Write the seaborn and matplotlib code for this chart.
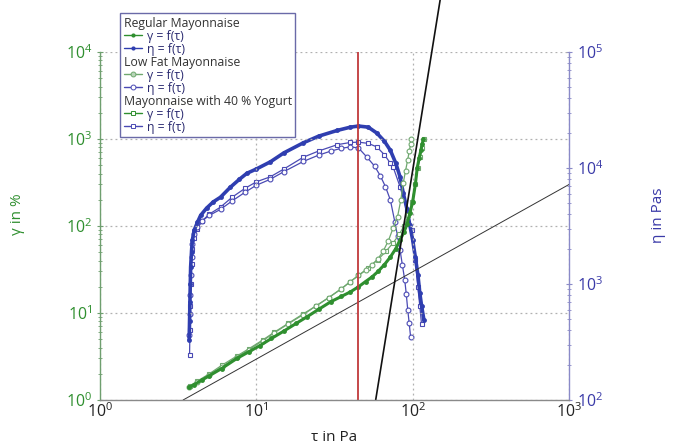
import matplotlib
matplotlib.use("Agg")
import matplotlib.pyplot as plt
from matplotlib.lines import Line2D
import seaborn as sns

sns.set_style("white")
plt.rcParams["font.family"] = ["Open Sans", "DejaVu Sans"]
plt.rcParams["mathtext.default"] = "regular"

# --- shear strain gamma (%) vs shear stress tau (Pa) ---
tau_reg_g = [3.7, 4.0, 4.5, 5.0, 6.0, 7.5, 9.0, 10.5, 12.5, 15, 18, 21, 25, 30, 35, 40, 45,
             50, 55, 60, 66, 72, 78, 83, 88, 92, 96, 100, 104, 107, 110, 113, 115, 117]
gam_reg = [1.4, 1.5, 1.7, 1.9, 2.3, 3.0, 3.6, 4.2, 5.1, 6.2, 7.6, 9.0, 11, 13.5, 15.5, 17.5, 20,
           23, 26, 30, 36, 44, 55, 69, 85, 105, 140, 190, 300, 470, 600, 750, 870, 1000]

tau_low_g = [3.7, 4.2, 5, 6, 7.5, 9, 11, 13, 16, 20, 24, 29, 35, 40, 45, 50, 55, 60, 65, 70,
             75, 80, 84, 87, 90, 93, 95, 97, 98]
gam_low = [1.4, 1.6, 1.95, 2.4, 3.1, 3.8, 4.8, 5.9, 7.5, 9.6, 12, 15, 19, 23, 27, 31, 36, 42,
           52, 68, 95, 127, 200, 310, 430, 580, 720, 870, 1000]

tau_yog_g = [3.75, 4.2, 5, 6, 7.5, 9, 11, 13, 16, 20, 24, 29, 35, 40, 45, 52, 60, 68, 75, 82,
             88, 94, 99, 104, 108, 112, 115, 118]
gam_yog = [1.45, 1.65, 2.0, 2.5, 3.2, 3.9, 4.9, 6.0, 7.6, 9.8, 12, 15, 19, 23, 27, 33, 41, 52,
           64, 80, 100, 135, 190, 300, 470, 620, 780, 1000]

# --- viscosity eta (Pa s) vs shear stress tau (Pa) ---
tau_reg_e = [3.72, 3.74, 3.76, 3.78, 3.8, 3.85, 3.9, 4.0, 4.2, 4.4, 4.8, 5.3, 5.9, 6.8, 7.8,
             8.7, 10, 12.3, 15, 20, 25, 33, 40, 45, 52, 59, 66, 72, 78, 83, 87, 92, 96, 100,
             104, 108, 111, 114, 118]
eta_reg = [330, 480, 700, 1000, 1400, 1900, 2400, 2900, 3400, 3900, 4500, 5100, 5600, 6800,
           8000, 9000, 9800, 11300, 13500, 16500, 18800, 21100, 22500, 23000, 22500, 20000,
           17000, 14200, 11000, 8400, 6100, 4400, 3200, 2400, 1700, 1200, 840, 650, 490]

tau_low_e = [3.72, 3.74, 3.76, 3.8, 3.85, 3.9, 4.0, 4.2, 4.5, 5.0, 5.9, 7.0, 8.5, 10, 12.3,
             15, 20, 25, 30, 35, 40, 45, 51, 57, 62, 67, 72, 77, 80, 83, 86, 89, 91, 93, 95, 97]
eta_low = [360, 550, 800, 1200, 1700, 2200, 2700, 3100, 3500, 3900, 4400, 5200, 6200, 7100,
           8000, 9300, 11400, 12900, 14000, 14800, 15200, 14900, 12400, 10400, 8600, 6900,
           5300, 3400, 2600, 1970, 1450, 1080, 820, 600, 460, 350]

tau_yog_e = [3.74, 3.76, 3.78, 3.8, 3.85, 3.9, 4.0, 4.2, 4.5, 5.0, 5.9, 7, 8.5, 10, 12.3, 15,
             20, 25, 33, 40, 45, 52, 59, 66, 72, 75, 83, 92, 99, 104, 108, 111, 114]
eta_yog = [244, 400, 650, 1000, 1500, 2000, 2500, 3000, 3500, 4000, 4600, 5600, 6700, 7600,
           8400, 9800, 12400, 14000, 15900, 16600, 16700, 16300, 15200, 13000, 11000, 10200,
           6900, 4300, 2900, 1600, 940, 650, 450]

# yield-point construction: stress marker and two tangents
tau_yield = 45
tan_flat_tau = [3.4, 1000]
tan_flat_gam = [1, 300]
tan_steep_tau = [58, 150]
tan_steep_gam = [1, 40000]

GREEN = "#2f8f2f"
GREEN_LIGHT = "#6fa86f"
BLUE = "#2f3eb0"
BLUE_OPEN = "#4a4ab4"

fig = plt.figure(figsize=(6.78, 4.48), dpi=100)
ax = fig.add_axes([100 / 678, 48 / 448, 469 / 678, 348 / 448])
ax2 = ax.twinx()

common = dict(estimator=None, sort=False, legend=False)

# viscosity curves (right axis)
sns.lineplot(x=tau_yog_e, y=eta_yog, ax=ax2, color=BLUE_OPEN, lw=0.9, marker="s",
             markersize=3.5, markerfacecolor="white", markeredgecolor=BLUE_OPEN,
             markeredgewidth=0.8, **common)
sns.lineplot(x=tau_low_e, y=eta_low, ax=ax2, color=BLUE_OPEN, lw=0.9, marker="o",
             markersize=3.5, markerfacecolor="white", markeredgecolor=BLUE_OPEN,
             markeredgewidth=0.8, **common)
sns.lineplot(x=tau_reg_e, y=eta_reg, ax=ax2, color=BLUE, lw=2.6, marker="o",
             markersize=3.5, markeredgewidth=0, **common)

# strain curves (left axis)
sns.lineplot(x=tau_yog_g, y=gam_yog, ax=ax, color=GREEN_LIGHT, lw=0.9, marker="s",
             markersize=3.5, markerfacecolor="white", markeredgecolor=GREEN_LIGHT,
             markeredgewidth=0.8, **common)
sns.lineplot(x=tau_low_g, y=gam_low, ax=ax, color=GREEN_LIGHT, lw=0.9, marker="o",
             markersize=3.5, markerfacecolor="white", markeredgecolor=GREEN_LIGHT,
             markeredgewidth=0.8, **common)
sns.lineplot(x=tau_reg_g, y=gam_reg, ax=ax, color=GREEN, lw=2.2, marker="o",
             markersize=3.5, markeredgewidth=0, **common)

sns.lineplot(x=tan_flat_tau, y=tan_flat_gam, ax=ax, color="#333333", lw=0.7, **common)
sns.lineplot(x=tan_steep_tau, y=tan_steep_gam, ax=ax, color="#111111", lw=1.2,
             clip_on=False, **common)
ax.axvline(tau_yield, color="#c0393b", lw=1.3)

ax.set_zorder(ax2.get_zorder() + 1)
ax.patch.set_visible(False)

for a in (ax, ax2):
    a.set_xscale("log")
    a.set_yscale("log")
ax.set_xlim(1, 1000)
ax.set_ylim(1, 1e4)
ax2.set_ylim(1e2, 1e5)

ax.grid(True, which="major", linestyle=(0, (1.5, 2.5)), color="#b0b0b0", lw=0.9)
ax2.grid(False)

for s in ("top", "right"):
    ax.spines[s].set_visible(False)
for s in ("top", "left", "bottom"):
    ax2.spines[s].set_visible(False)
ax.spines["left"].set_color("#6f9f6f")
ax.spines["bottom"].set_color("#8a8a8a")
ax2.spines["right"].set_color("#8a8ac8")
for sp in (ax.spines["left"], ax.spines["bottom"], ax2.spines["right"]):
    sp.set_linewidth(1.0)

ax.tick_params(axis="y", which="both", colors="#6f9f6f", labelcolor="#2f8f2f",
               labelsize=11.5, direction="inout", length=4)
ax.tick_params(axis="y", which="minor", length=2.5)
ax.tick_params(axis="x", which="both", colors="#8a8a8a", labelcolor="#222222",
               labelsize=11.5, direction="in", length=4, pad=2)
ax.tick_params(axis="x", which="minor", length=2.5)
ax2.tick_params(axis="y", which="both", colors="#8a8ac8", labelcolor="#3a3aa8",
                labelsize=11.5, direction="inout", length=4)
ax2.tick_params(axis="y", which="minor", length=2.5)

ax.set_xlabel("τ in Pa", fontsize=11, color="#222222")
ax.xaxis.set_label_coords(0.5, -0.085)
ax.set_ylabel("γ in %", fontsize=11, color="#2f8f2f")
ax.yaxis.set_label_coords(-0.16, 0.535)
ax2.set_ylabel("η in Pas", fontsize=11, color="#3a3aa8")
ax2.yaxis.set_label_coords(1.175, 0.53)

# legend: sample headings followed by their two curves
blank = Line2D([], [], linestyle="none")
handles = [
    blank,
    Line2D([], [], color=GREEN, lw=1, marker="o", markersize=3, markeredgewidth=0),
    Line2D([], [], color=BLUE, lw=1, marker="o", markersize=3, markeredgewidth=0),
    blank,
    Line2D([], [], color=GREEN_LIGHT, lw=1, marker="o", markersize=3.5,
           markerfacecolor="#b8d4b8", markeredgecolor=GREEN_LIGHT, markeredgewidth=0.7),
    Line2D([], [], color=BLUE_OPEN, lw=1, marker="o", markersize=3.5,
           markerfacecolor="white", markeredgecolor=BLUE_OPEN, markeredgewidth=0.7),
    blank,
    Line2D([], [], color=GREEN, lw=1, marker="s", markersize=3.5,
           markerfacecolor="white", markeredgecolor=GREEN, markeredgewidth=0.7),
    Line2D([], [], color=BLUE_OPEN, lw=1, marker="s", markersize=3.5,
           markerfacecolor="white", markeredgecolor=BLUE_OPEN, markeredgewidth=0.7),
]
labels = ["Regular Mayonnaise", "γ = f(τ)", "η = f(τ)",
          "Low Fat Mayonnaise", "γ = f(τ)", "η = f(τ)",
          "Mayonnaise with 40 % Yogurt", "γ = f(τ)", "η = f(τ)"]
leg = fig.legend(handles, labels, loc="upper left",
                 bbox_to_anchor=(120 / 678, 1 - 13 / 448), borderaxespad=0,
                 frameon=True, fancybox=False, framealpha=1, edgecolor="#6a6aa8",
                 handlelength=1.5, handletextpad=0.4, labelspacing=0.0,
                 borderpad=0.3, fontsize=8.8)
leg.get_frame().set_linewidth(1.0)
heading_rows = {0, 3, 6}
rows = leg._legend_handle_box.get_children()[0].get_children()
for i, (row, txt) in enumerate(zip(rows, leg.get_texts())):
    if i in heading_rows:
        row.get_children()[0].width = 0
        row.sep = 0
        txt.set_color("#333333")
    else:
        txt.set_color("#2a2a70")

fig.savefig("out.png", dpi=100)
